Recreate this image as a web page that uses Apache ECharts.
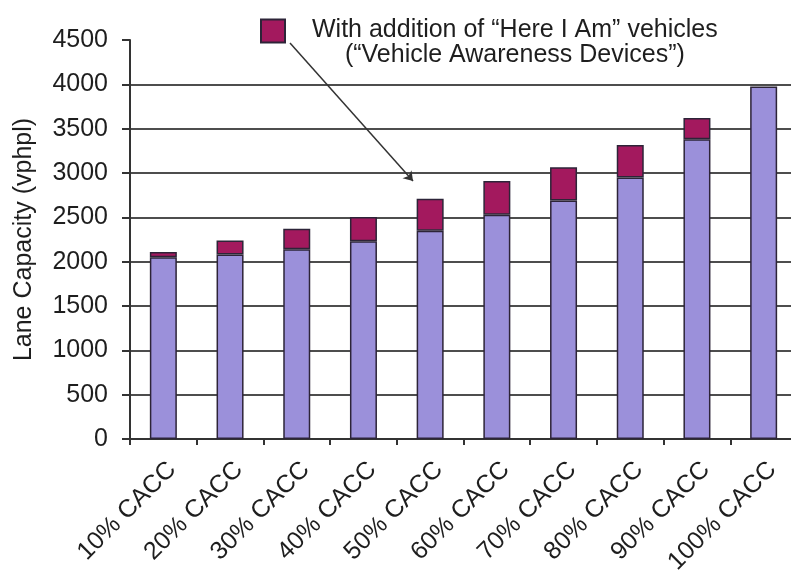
<!DOCTYPE html>
<html>
<head>
<meta charset="utf-8">
<script src="https://cdn.jsdelivr.net/npm/echarts@6/dist/echarts.min.js"></script>
<style>
  html, body { margin: 0; padding: 0; background: #ffffff; }
  #chart { width: 791px; height: 572px; }
</style>
</head>
<body>
<div id="chart"></div>
<script>
// Lane capacity by CACC market penetration
const categories = ['10% CACC', '20% CACC', '30% CACC', '40% CACC', '50% CACC',
                    '60% CACC', '70% CACC', '80% CACC', '90% CACC', '100% CACC'];
// capacity with CACC vehicles only (vphpl)
const caccCapacity = [2050, 2080, 2140, 2230, 2350, 2530, 2690, 2950, 3380, 3975];
// extra capacity when the remaining vehicles carry awareness devices (vphpl)
const vadGain = [60, 160, 230, 275, 360, 380, 375, 365, 240, 0];
const yTicks = { min: 0, max: 4500, step: 500 };

const seriesNames = ['CACC only', 'With addition of “Here I Am” vehicles'];
const legendSecondLine = '(“Vehicle Awareness Devices”)';

const FONT = '"Liberation Sans", Arial, Helvetica, sans-serif';
const INK = '#1e1e1e';
const EDGE = '#2d2438';

const chart = echarts.init(document.getElementById('chart'), null, { renderer: 'canvas' });

chart.setOption({
  backgroundColor: '#ffffff',
  animation: false,
  grid: {
    left: 130, right: -6, top: 40, bottom: 133,
    containLabel: false,
    outerBoundsMode: 'none'
  },
  legend: {
    data: [seriesNames[1]],
    left: 255,
    top: 13,
    itemWidth: 24,
    itemHeight: 23,
    icon: 'rect',
    selectedMode: false,
    formatter: name => '{a|' + name + '}\n{b|' + legendSecondLine + '}',
    textStyle: {
      fontFamily: FONT,
      color: INK,
      padding: [24, 0, 0, 22],
      rich: {
        a: { fontFamily: FONT, fontSize: 25, color: INK, lineHeight: 25 },
        b: { fontFamily: FONT, fontSize: 25, color: INK, lineHeight: 25, align: 'center' }
      }
    }
  },
  xAxis: {
    type: 'category',
    data: categories,
    boundaryGap: true,
    axisLine: { show: true, lineStyle: { color: '#333', width: 2 } },
    axisTick: { show: true, interval: 0, length: 6, lineStyle: { color: '#333', width: 2 } },
    axisLabel: {
      interval: 0,
      rotate: 45,
      margin: 18,
      verticalAlign: 'top',
      fontFamily: FONT,
      fontSize: 25,
      color: INK
    },
    splitLine: { show: false }
  },
  yAxis: {
    type: 'value',
    min: yTicks.min,
    max: yTicks.max,
    interval: yTicks.step,
    name: 'Lane Capacity (vphpl)',
    nameLocation: 'middle',
    nameGap: 93,
    nameTextStyle: { fontFamily: FONT, fontSize: 25, color: INK },
    axisLine: { show: true, lineStyle: { color: '#333', width: 2 } },
    axisTick: { show: true, length: 8, lineStyle: { color: '#333', width: 2 } },
    axisLabel: {
      margin: 22,
      fontFamily: FONT,
      fontSize: 25,
      color: INK,
      formatter: v => String(v)
    },
    splitLine: {
      show: true,
      showMaxLine: false,
      lineStyle: { color: '#4d4d4d', width: 2 }
    }
  },
  series: [
    {
      name: seriesNames[0],
      type: 'bar',
      stack: 'capacity',
      data: caccCapacity,
      barWidth: 27,
      itemStyle: { color: '#9b90da', borderColor: EDGE, borderWidth: 1.5 }
    },
    {
      name: seriesNames[1],
      type: 'bar',
      stack: 'capacity',
      // no segment is drawn where the gain is zero
      data: vadGain.map(v => (v > 0 ? v : null)),
      barWidth: 27,
      itemStyle: { color: '#a3195e', borderColor: EDGE, borderWidth: 1.5 },
      markLine: {
        silent: true,
        symbol: ['none', 'arrow'],
        symbolSize: 9,
        label: { show: false },
        lineStyle: { color: '#333', width: 1.5, type: 'solid' },
        data: [[{ x: 290, y: 43 }, { x: 413, y: 181 }]]
      }
    }
  ]
});
</script>
</body>
</html>
